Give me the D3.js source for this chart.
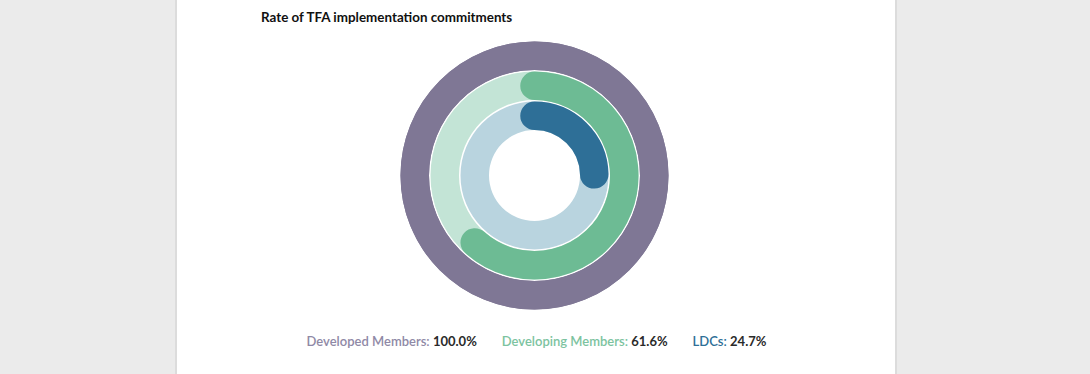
<!DOCTYPE html>
<html lang="en">
<head>
    <meta charset="UTF-8">
    <script src="https://d3js.org/d3.v7.min.js"></script>
    <title>Rate of TFA implementation commitments</title>
    <style>
        html, body { margin: 0; padding: 0; background: #ebebeb; }
        svg { display: block; }
    </style>
</head>
<body>
    <svg width="1090" height="374"></svg>

    <script>
        // chart data
        var categories = ["Developed Members", "Developing Members", "LDCs"];
        var rates = [100.0, 61.6, 24.7];
        var arcColors = ["#7f7795", "#6dbb94", "#2e6f97"];
        var trackColors = ["#7f7795", "#c3e4d6", "#b9d4df"];
        var labelColors = ["#8f89a6", "#7cc3a0", "#2e6f97"];
        var title = "Rate of TFA implementation commitments";

        var svg = d3.select("svg");

        // page panel
        svg.append("rect").attr("x", 175).attr("y", 0).attr("width", 722).attr("height", 374).attr("fill", "#dcdcdc");
        svg.append("rect").attr("x", 177).attr("y", 0).attr("width", 718).attr("height", 374).attr("fill", "#ffffff");

        svg.append("text")
            .attr("x", 261)
            .attr("y", 22)
            .attr("font-family", "Lato, sans-serif")
            .attr("font-weight", "bold")
            .attr("font-size", "13.4px")
            .attr("fill", "#111")
            .text(title);

        var cx = 534.5, cy = 175.5;
        var g = svg.append("g").attr("transform", "translate(" + cx + "," + cy + ")");

        var angle = d3.scaleLinear().domain([0, 100]).range([0, 2 * Math.PI]);
        var radius = d3.scaleBand().domain(categories).range([134, 45.5]).paddingInner(0.05);
        var bw = radius.bandwidth();

        var track = d3.arc()
            .innerRadius(d => radius(d))
            .outerRadius(d => radius(d) + bw)
            .startAngle(0)
            .endAngle(2 * Math.PI);

        g.selectAll(".track")
            .data(categories)
            .enter().append("path")
            .attr("class", "track")
            .attr("d", track)
            .attr("fill", (d, i) => trackColors[i]);

        function valueArc(d, i) {
            var p = d3.path();
            var r = radius(d) + bw / 2;
            var a0 = -Math.PI / 2;
            var a1 = a0 + angle(rates[i]);
            p.moveTo(r * Math.cos(a0), r * Math.sin(a0));
            p.arc(0, 0, r, a0, a1);
            return p.toString();
        }

        g.selectAll(".bar")
            .data(categories)
            .enter().append("path")
            .attr("class", "bar")
            .attr("d", valueArc)
            .attr("fill", "none")
            .attr("stroke", (d, i) => arcColors[i])
            .attr("stroke-width", bw)
            .attr("stroke-linecap", "round");

        // legend
        var legend = svg.append("g").attr("font-family", "Lato, sans-serif").attr("font-size", "13px");
        var items = legend.selectAll(".item")
            .data(categories)
            .enter().append("text")
            .attr("class", "item")
            .attr("y", 346);
        items.append("tspan").attr("fill", (d, i) => labelColors[i]).attr("font-weight", 600).text(d => d + ": ");
        items.append("tspan").attr("fill", "#2a2a2a").attr("font-weight", "bold").text((d, i) => rates[i].toFixed(1) + "%");

        var gap = 25;
        var widths = [];
        items.each(function () { widths.push(this.getComputedTextLength()); });
        var total = d3.sum(widths) + gap * (widths.length - 1);
        var x = 536.5 - total / 2;
        items.attr("x", (d, i) => {
            var xi = x;
            x += widths[i] + gap;
            return xi;
        });
    </script>
</body>
</html>
